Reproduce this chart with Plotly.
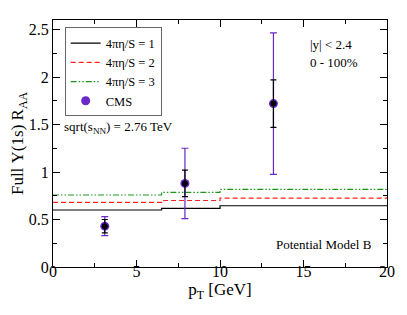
import plotly.graph_objects as go

# ---- data ----
pt_edges = [0, 6.5, 10, 20]
raa_eta1 = [0.60, 0.617, 0.645]
raa_eta2 = [0.68, 0.70, 0.726]
raa_eta3 = [0.758, 0.786, 0.818]

cms_pt = [3.1, 7.9, 13.2]
cms_raa = [0.43, 0.88, 1.72]
cms_stat = [0.07, 0.14, 0.25]
cms_tot = [0.10, 0.37, 0.745]

FONT = "Liberation Serif"
PURPLE = "#6a28c8"

fig = go.Figure()

def step(vals):
    return vals + [vals[-1]]

fig.add_trace(go.Scatter(x=pt_edges, y=step(raa_eta1), mode="lines", line_shape="hv",
                         line=dict(color="black", width=1.2), name="4πη/S = 1"))
fig.add_trace(go.Scatter(x=pt_edges, y=step(raa_eta2), mode="lines", line_shape="hv",
                         line=dict(color="#ff2020", width=1.2, dash="5px,3px"), name="4πη/S = 2"))
fig.add_trace(go.Scatter(x=pt_edges, y=step(raa_eta3), mode="lines", line_shape="hv",
                         line=dict(color="#1a9a1a", width=1.2, dash="6px,2px,1.5px,2px,1.5px,2px"),
                         name="4πη/S = 3"))
fig.add_trace(go.Scatter(x=cms_pt, y=cms_raa, mode="markers", name="CMS",
                         marker=dict(color=PURPLE, size=9),
                         error_y=dict(type="data", array=cms_tot, color=PURPLE, thickness=1.2, width=3.5)))
fig.add_trace(go.Scatter(x=cms_pt, y=cms_raa, mode="markers", showlegend=False,
                         marker=dict(color="black", size=6),
                         error_y=dict(type="data", array=cms_stat, color="black", thickness=1.2, width=3)))

axis_common = dict(showline=True, linecolor="black", linewidth=1, mirror="allticks",
                   ticks="inside", ticklen=7, tickcolor="black", showgrid=False, zeroline=False,
                   automargin=False,
                   tickfont=dict(family=FONT, size=16, color="black"))

fig.update_xaxes(range=[0, 20], dtick=5, **axis_common, ticklabelstandoff=-10,
                 minor=dict(ticks="inside", ticklen=4, dtick=2.5, tickcolor="black"),
                 title=dict(text="p<sub>T</sub> [GeV]", font=dict(family=FONT, size=17, color="black"),
                            standoff=0))
fig.update_yaxes(range=[0, 2.6], dtick=0.5, **axis_common,
                 minor=dict(ticks="inside", ticklen=4, dtick=0.25, tickcolor="black"),
                 title=dict(text="Full Υ(1s) R<sub>AA</sub>", font=dict(family=FONT, size=17, color="black"),
                            standoff=4))

fig.add_annotation(x=0.027, y=0.565, xref="paper", yref="paper", xanchor="left", yanchor="middle",
                   text="sqrt(s<sub>NN</sub>) = 2.76 TeV", showarrow=False,
                   font=dict(family=FONT, size=13, color="black"))
fig.add_annotation(x=0.763, y=0.90, xref="paper", yref="paper", xanchor="left", yanchor="middle",
                   text="|y| < 2.4", showarrow=False, font=dict(family=FONT, size=13, color="black"))
fig.add_annotation(x=0.763, y=0.827, xref="paper", yref="paper", xanchor="left", yanchor="middle",
                   text="0 - 100%", showarrow=False, font=dict(family=FONT, size=13, color="black"))
fig.add_annotation(x=0.962, y=0.09, xref="paper", yref="paper", xanchor="right", yanchor="middle",
                   text="Potential Model B", showarrow=False, font=dict(family=FONT, size=13, color="black"))

# page body adds an 8px offset; size the figure to fill the rest of the window
fig.update_layout(
    width=399, height=307,
    margin=dict(l=45, r=20, t=12, b=48),
    paper_bgcolor="white", plot_bgcolor="white",
    font=dict(family=FONT, color="black"),
    legend=dict(x=0.035, y=0.97, xanchor="left", yanchor="top",
                bordercolor="#666", borderwidth=1, bgcolor="white",
                font=dict(family=FONT, size=12.5, color="black"),
                itemwidth=30, tracegroupgap=0),
)

fig.write_html("out.html")
